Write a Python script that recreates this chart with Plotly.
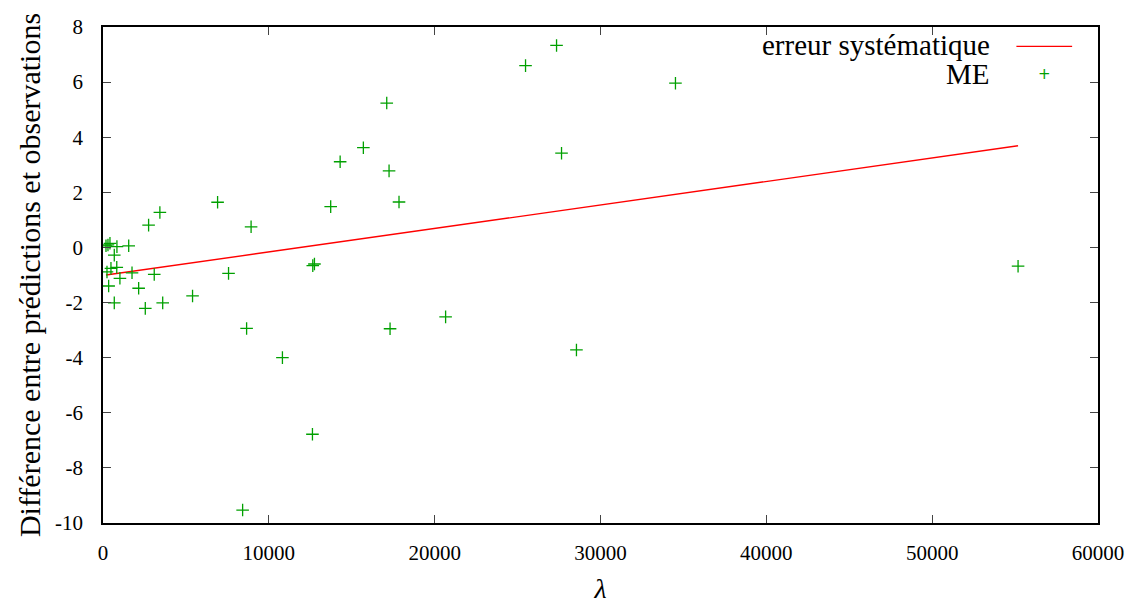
import plotly.graph_objects as go

# Observed data (lambda, difference)
lam = [180, 420, 300, 840, 1550, 680, 830, 480, 240, 1750, 1020, 3090, 340, 2150,
       5400, 680, 2550, 3600, 7570, 8930, 6910, 3430, 2750, 8660, 12650, 12750,
       13730, 14300, 15700, 17250, 17850, 10820, 17310, 12630, 8420, 20660, 28550,
       55180, 17110, 27350, 25480, 34520, 27650]
diff = [0.06, 0.15, 0.09, 0.03, 0.06, -0.28, -0.72, -0.76, -0.89, -0.92, -1.12, -0.98,
        -1.40, -1.48, -1.76, -2.01, -2.21, -2.01, -0.94, 0.75, 1.64, 1.27, 0.81, -2.94,
        -0.66, -0.60, 1.48, 3.11, 3.62, 2.78, 1.65, -4.0, -2.95, -6.78, -9.53, -2.52,
        -3.72, -0.68, 5.24, 7.33, 6.6, 5.96, 3.42]

# Systematic error line endpoints
line_x = [180, 55180]
line_y = [-1.0, 3.69]

x_ticks = [0, 10000, 20000, 30000, 40000, 50000, 60000]
y_ticks = [-10, -8, -6, -4, -2, 0, 2, 4, 6, 8]

FONT = "Liberation Serif, Times New Roman, serif"
GREEN = "#00a000"
RED = "#ff0000"

fig = go.Figure()
fig.add_trace(go.Scatter(x=line_x, y=line_y, mode="lines",
                         line=dict(color=RED, width=1.3), name="erreur systématique",
                         showlegend=False))
fig.add_trace(go.Scatter(x=lam, y=diff, mode="markers", name="ME",
                         marker=dict(symbol="cross-thin", size=9,
                                     line=dict(color=GREEN, width=1.3), color=GREEN),
                         showlegend=False))

axis_common = dict(showgrid=False, zeroline=False, showline=True, linecolor="black",
                   linewidth=1.5, mirror="ticks", ticks="inside", ticklen=8,
                   tickwidth=1, tickcolor="#444", automargin=False,
                   tickfont=dict(family=FONT, size=21, color="black"))

fig.update_xaxes(range=[0, 60000], tickvals=x_ticks,
                 ticktext=[str(v) for v in x_ticks], ticklabelstandoff=10,
                 title=dict(text="<i>λ</i>", font=dict(family=FONT, size=28, color="black"),
                            standoff=14),
                 **axis_common)
fig.update_yaxes(range=[-10, 8], tickvals=y_ticks,
                 ticktext=[str(v) for v in y_ticks], ticklabelstandoff=14,
                 title=dict(text="Différence entre prédictions et observations",
                            font=dict(family=FONT, size=30, color="black"), standoff=6),
                 **axis_common)

# Manual legend (text left of symbol, gnuplot style)
fig.add_annotation(xref="paper", yref="paper", x=0.893, y=0.963, xanchor="right",
                   yanchor="middle", text="erreur systématique", showarrow=False,
                   font=dict(family=FONT, size=29, color="black"))
fig.add_annotation(xref="paper", yref="paper", x=0.893, y=0.906, xanchor="right",
                   yanchor="middle", text="ME", showarrow=False,
                   font=dict(family=FONT, size=29, color="black"))
fig.add_shape(type="line", xref="paper", yref="paper", x0=0.918, x1=0.974,
              y0=0.961, y1=0.961, line=dict(color=RED, width=1.3))
fig.add_annotation(xref="paper", yref="paper", x=0.946, y=0.905, xanchor="center",
                   yanchor="middle", text="+", showarrow=False,
                   font=dict(family="DejaVu Sans", size=15, color=GREEN))

# Page body has an 8px offset; compensate in margins
fig.update_layout(width=1137, height=605, plot_bgcolor="white", paper_bgcolor="white",
                  font=dict(family=FONT, color="black"),
                  margin=dict(l=95, r=47, t=19, b=90), showlegend=False)

fig.write_html("out.html")
